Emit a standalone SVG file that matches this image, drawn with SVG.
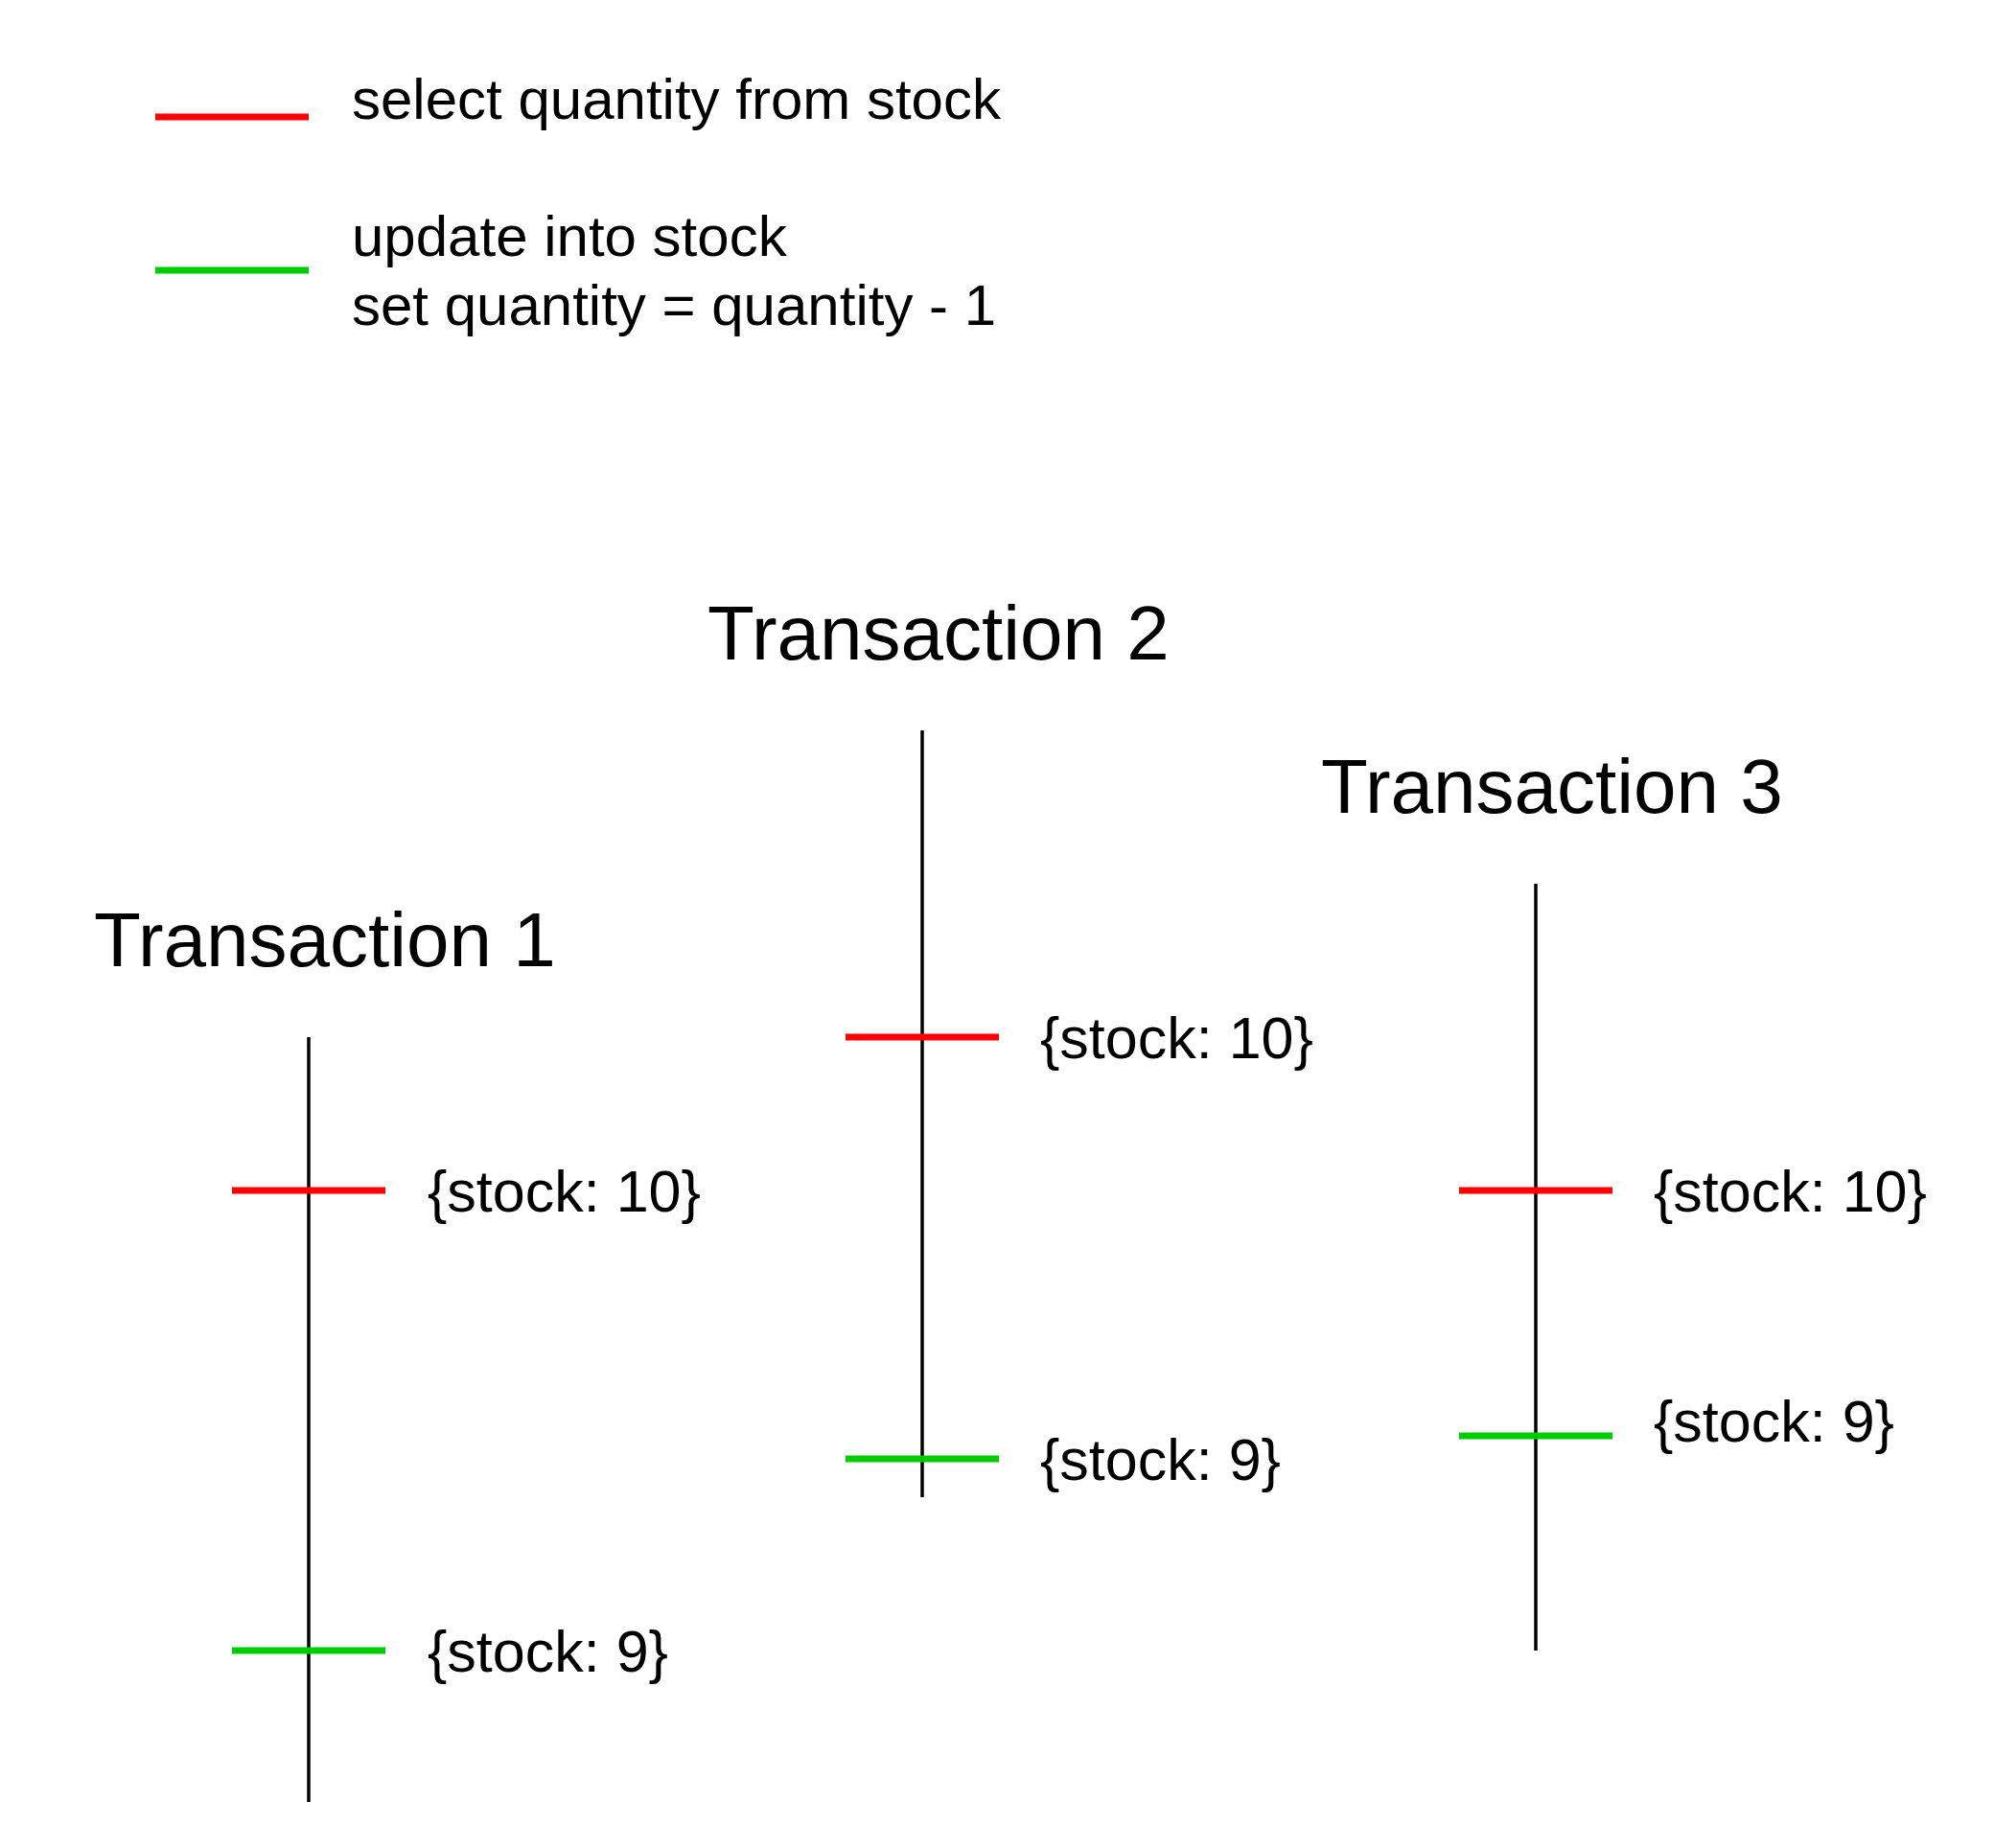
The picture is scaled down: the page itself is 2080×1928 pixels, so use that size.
<svg xmlns="http://www.w3.org/2000/svg" width="2080" height="1928" viewBox="0 0 2080 1928">
<style>
text{font-family:"Liberation Sans",Arial,Helvetica,sans-serif;fill:#000}
.leg{font-size:60px}
.title{font-size:80px}
.lbl{font-size:61px}
.axis{stroke:#000;stroke-width:3.5;fill:none}
.sel{stroke:#ff0000;stroke-width:7;fill:none}
.upd{stroke:#00cc00;stroke-width:7;fill:none}
</style>
<rect width="2080" height="1928" fill="#fff"/>
<g id="legend">
<line class="sel" x1="162" y1="122" x2="322" y2="122"/>
<text class="leg" x="367" y="124">select quantity from stock</text>
<line class="upd" x1="162" y1="282" x2="322" y2="282"/>
<text class="leg" x="367" y="267">update into stock</text>
<text class="leg" x="367" y="339">set quantity = quantity - 1</text>
</g>
<g id="transaction1">
<text class="title" x="98" y="1008">Transaction 1</text>
<line class="axis" x1="322" y1="1082" x2="322" y2="1880"/>
<text class="lbl" x="446" y="1264">{stock: 10}</text>
<text class="lbl" x="446" y="1744">{stock: 9}</text>
</g>
<g id="transaction2">
<text class="title" x="738" y="688">Transaction 2</text>
<line class="axis" x1="962" y1="762" x2="962" y2="1562"/>
<text class="lbl" x="1085" y="1104">{stock: 10}</text>
<text class="lbl" x="1085" y="1544">{stock: 9}</text>
</g>
<g id="transaction3">
<text class="title" x="1378" y="848">Transaction 3</text>
<line class="axis" x1="1602" y1="922" x2="1602" y2="1722"/>
<text class="lbl" x="1725" y="1264">{stock: 10}</text>
<text class="lbl" x="1725" y="1504">{stock: 9}</text>
</g>
<g id="connectors">
<line class="sel" x1="242" y1="1242" x2="402" y2="1242"/>
<line class="upd" x1="242" y1="1722" x2="402" y2="1722"/>
<line class="sel" x1="882" y1="1082" x2="1042" y2="1082"/>
<line class="upd" x1="882" y1="1522" x2="1042" y2="1522"/>
<line class="sel" x1="1522" y1="1242" x2="1682" y2="1242"/>
<line class="upd" x1="1522" y1="1498" x2="1682" y2="1498"/>
</g>
</svg>
